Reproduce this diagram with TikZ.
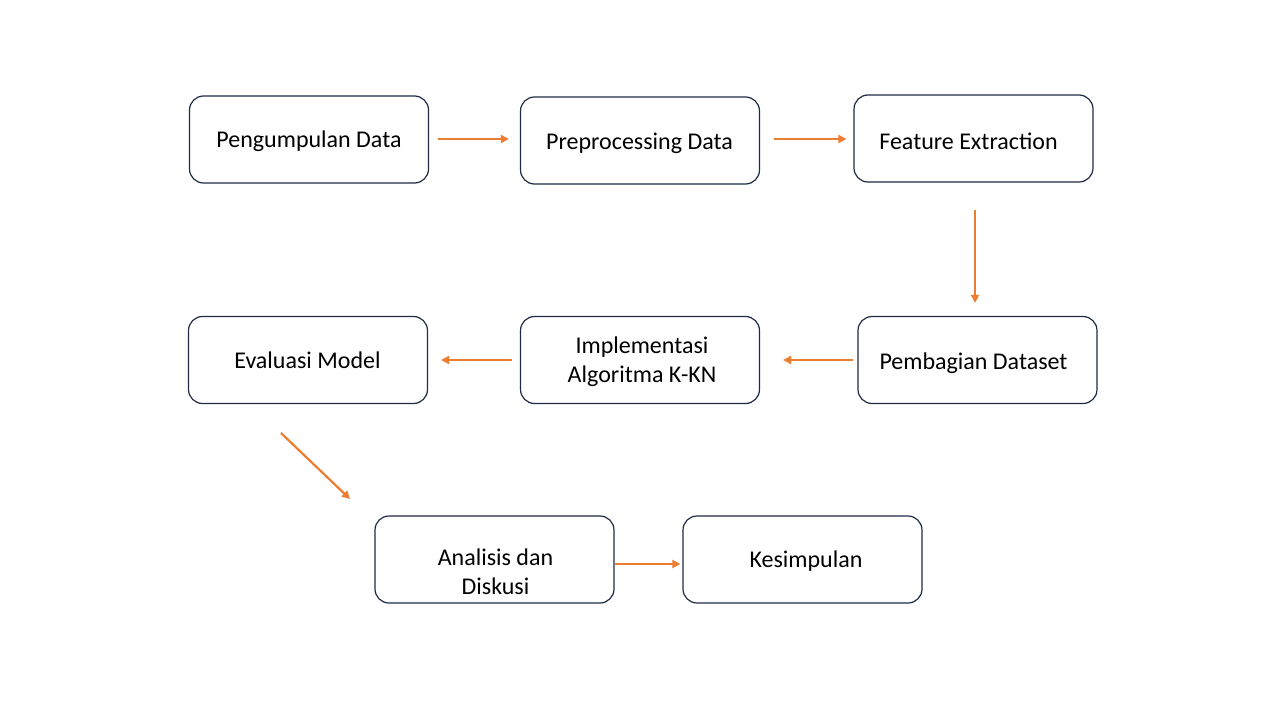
\documentclass[tikz,border=0pt]{standalone}
\usepackage{fontspec}
\setmainfont{Carlito}
\usetikzlibrary{arrows.meta}
\definecolor{boxline}{HTML}{1F2A44}
\definecolor{arrorange}{HTML}{ED7D31}
% #1 = horizontal shift of text centre, #2 = first baseline below node centre
\newcommand\boxtext[3]{\hspace*{\dimexpr 2\dimexpr #1\relax\relax}\raisebox{-#2}[0pt][0pt]{\begin{tabular}[t]{@{}c@{}}#3\end{tabular}}}
\tikzset{
  stepbox/.style={draw=boxline, line width=1.2pt, rounded corners=14pt, fill=white,
    minimum width=239pt, minimum height=87pt, inner sep=0pt,
    font=\fontsize{24}{29}\selectfont, text=black},
  arr/.style={draw=arrorange, line width=2.2pt, -{Triangle[length=8pt,width=8pt]}}
}
\begin{document}
\begin{tikzpicture}[x=1pt,y=-1pt]
\fill[white] (0,0) rectangle (1280,720);
\useasboundingbox (0,0) rectangle (1280,720);
\node[stepbox] (n1) at (309,139.5) {\boxtext{0pt}{7.8pt}{Pengumpulan Data}};
\node[stepbox] (n2) at (640,140.5) {\boxtext{-0.5pt}{8.5pt}{Preprocessing Data}};
\node[stepbox] (n3) at (973.5,138.5) {\boxtext{-5pt}{10.8pt}{Feature Extraction}};
\node[stepbox] (n4) at (977.5,360) {\boxtext{-4pt}{9pt}{Pembagian Dataset}};
\node[stepbox] (n5) at (640,360) {\boxtext{2pt}{-6.7pt}{Implementasi\\Algoritma K-KN}};
\node[stepbox] (n6) at (308,360) {\boxtext{-0.5pt}{8.7pt}{Evaluasi Model}};
\node[stepbox] (n7) at (494.5,559.5) {\boxtext{1pt}{5.5pt}{Analisis dan\\Diskusi}};
\node[stepbox] (n8) at (802.5,559.5) {\boxtext{3.5pt}{8.2pt}{Kesimpulan}};
\coordinate (a67) at (281,433);
\coordinate (b67) at (350,499);
\draw[arr, shorten <=9pt, shorten >=11pt] (n1.east |- 0,139) -- (n2.west |- 0,139);
\draw[arr, shorten <=14pt, shorten >=7pt] (n2.east |- 0,139) -- (n3.west |- 0,139);
\draw[arr, shorten <=27pt, shorten >=13pt] (975,0 |- n3.south) -- (975,0 |- n4.north);
\draw[arr, shorten <=4pt, shorten >=23pt] (n4.west |- 0,360) -- (n5.east |- 0,360);
\draw[arr, shorten <=8pt, shorten >=13pt] (n5.west |- 0,360) -- (n6.east |- 0,360);
\draw[arr] (a67) -- (b67);
\draw[arr, shorten >=2pt] (n7.east |- 0,564) -- (n8.west |- 0,564);
\end{tikzpicture}
\end{document}
